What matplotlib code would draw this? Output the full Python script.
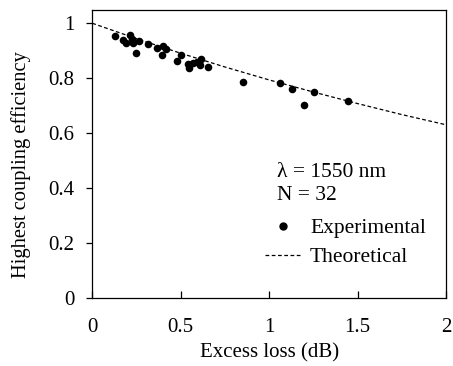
import matplotlib
matplotlib.use("Agg")
import matplotlib.pyplot as plt
from matplotlib.lines import Line2D

plt.rcParams['font.family'] = ['Liberation Serif', 'DejaVu Serif']

# Experimental points (excess loss dB, highest coupling efficiency)
exp_loss = [0.128, 0.175, 0.190, 0.213, 0.223, 0.232, 0.245, 0.266, 0.317, 0.364,
            0.398, 0.392, 0.417, 0.477, 0.500, 0.543, 0.547, 0.571, 0.590, 0.613,
            0.609, 0.656, 0.854, 1.061, 1.127, 1.197, 1.255, 1.444]
exp_eff = [0.954, 0.939, 0.927, 0.956, 0.942, 0.930, 0.891, 0.935, 0.923, 0.911,
           0.917, 0.886, 0.905, 0.861, 0.884, 0.853, 0.836, 0.857, 0.859, 0.871,
           0.850, 0.841, 0.787, 0.784, 0.762, 0.703, 0.750, 0.716]

# Theoretical curve
theo_loss = [0.0, 0.25, 0.5, 0.75, 1.0, 1.25, 1.5, 1.75, 2.0]
theo_eff = [1.0, 0.944, 0.891, 0.841, 0.794, 0.750, 0.708, 0.668, 0.631]

xticks = [0, 0.5, 1, 1.5, 2]
xtick_labels = ['0', '0.5', '1', '1.5', '2']
yticks = [0, 0.2, 0.4, 0.6, 0.8, 1]
ytick_labels = ['0', '0.2', '0.4', '0.6', '0.8', '1']

fig = plt.figure(figsize=(4.53, 3.66), dpi=100)
ax = fig.add_axes([0.2038, 0.185, 0.7807, 0.789])

ax.plot(theo_loss, theo_eff, color='black', linestyle=(0, (3, 2)), linewidth=0.9, zorder=2)
ax.scatter(exp_loss, exp_eff, s=30, color='black', zorder=3, linewidths=0)

ax.set_xlim(0, 2)
ax.set_ylim(0, 1.05)
ax.set_xticks(xticks)
ax.set_xticklabels(xtick_labels)
ax.set_yticks(yticks)
ax.set_yticklabels(ytick_labels)
ax.tick_params(axis='x', direction='in', length=5, width=0.9, labelsize=15, pad=14)
ax.tick_params(axis='y', direction='out', length=4, width=0.9, labelsize=15, pad=9)
for s in ax.spines.values():
    s.set_linewidth(0.9)
    s.set_color('black')

ax.set_xlabel('Excess loss (dB)', fontsize=15, labelpad=5)
ax.set_ylabel('Highest coupling efficiency', fontsize=14.8)
ax.yaxis.set_label_coords(-0.173, 0.5 - 11 / 288.8)

ax.text(0.522, 0.437, 'λ = 1550 nm', transform=ax.transAxes, fontsize=15.5, va='center', ha='left')
ax.text(0.522, 0.357, 'N = 32', transform=ax.transAxes, fontsize=15.5, va='center', ha='left')

handles = [Line2D([], [], marker='o', color='black', linestyle='none', markersize=5),
           Line2D([], [], color='black', linestyle=(0, (3, 2)), linewidth=0.9)]
ax.legend(handles, ['Experimental', 'Theoretical'], loc='upper left',
          bbox_to_anchor=(0.488, 0.277), frameon=False, fontsize=15.5,
          handlelength=1.7, handletextpad=0.4, labelspacing=0.4, borderpad=0,
          borderaxespad=0)

fig.savefig('out.png', dpi=100)
